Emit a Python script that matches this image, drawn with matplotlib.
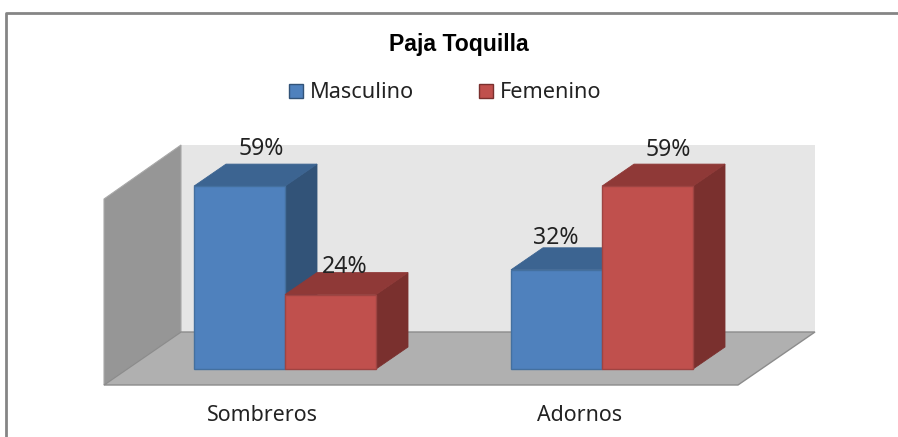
"""Paja Toquilla: fake 3D clustered column chart, Excel style."""

import matplotlib

matplotlib.use("Agg")
import matplotlib.pyplot as plt
from matplotlib.patches import Patch, Polygon
from matplotlib.transforms import Affine2D

categories = ["Sombreros", "Adornos"]
masculino = [59, 32]
femenino = [24, 59]
y_max = 60

W, H = 898, 437
BLUE = ("#4F81BD", "#3C6491", "#325378", "#44709F")  # front, top, side, edge
RED = ("#C0504D", "#8F3937", "#7A302E", "#9E4442")
TEXT = "#222222"

plt.rcParams["font.family"] = ["Noto Sans", "DejaVu Sans"]

fig = plt.figure(figsize=(W / 100, H / 100), dpi=100)

# background layer in pixel coordinates: frame and the box walls
bg = fig.add_axes([0, 0, 1, 1])
bg.set_xlim(0, W)
bg.set_ylim(H, 0)
bg.axis("off")
bg.plot([5.5, 5.5, W], [H, 13, 13], color="#858585", lw=2)
bg.add_patch(Polygon([(181, 145), (815, 145), (815, 332), (181, 332)], fc="#E6E6E6", ec="none"))
bg.add_patch(Polygon([(104, 199), (181, 145), (181, 332), (104, 385)], fc="#969696", ec="#A8A8A8", lw=0.8))
bg.add_patch(Polygon([(104, 385), (181, 332), (815, 332), (738, 385)], fc="#B0B0B0", ec="#8C8C8C", lw=1))

# chart layer: the front plane of the box, 104..738 px wide and 199..385 px down
ax = fig.add_axes([104 / W, 1 - 385 / H, 634 / W, 186 / H])
ax.patch.set_alpha(0)
ax.set_xlim(-0.5, 1.5)
ax.set_ylim(0, y_max)
for s in ax.spines.values():
    s.set_visible(False)
ax.set_yticks([])
ax.set_xticks(range(len(categories)))
ax.set_xticklabels(categories, fontsize=15.4, color=TEXT)
ax.tick_params(axis="x", length=0, pad=14.7)

width = 91 / 317
px_x = 634 / 2  # pixels per category
px_y = 186 / y_max  # pixels per percent
shift = Affine2D().translate(22.5, 16)  # bars stand partway into the box
tr = ax.transData + shift
dep_x, dep_y = 32 / px_x, 22 / px_y


def bar3d(x, v, colors):
    left, right = x - width / 2, x + width / 2
    top = [(left, v), (right, v), (right + dep_x, v + dep_y), (left + dep_x, v + dep_y)]
    side = [(right, 0), (right + dep_x, dep_y), (right + dep_x, v + dep_y), (right, v)]
    ax.add_patch(Polygon(side, fc=colors[2], ec=colors[2], lw=0.6, transform=tr, clip_on=False))
    ax.add_patch(Polygon(top, fc=colors[1], ec=colors[1], lw=0.6, transform=tr, clip_on=False))
    ax.bar(x, v, width, color=colors[0], edgecolor=colors[3], lw=1, transform=tr, clip_on=False)


# left column of each pair goes first so the right one covers its side face
for i in range(len(categories)):
    bar3d(i - width / 2, masculino[i], BLUE)
    bar3d(i + width / 2, femenino[i], RED)

# label offsets from the top centre of the front face
offsets = {(0, 0): (22, 37), (0, 1): (14, 28), (1, 0): (-1, 32), (1, 1): (21, 36)}
for i in range(len(categories)):
    for j, (vals, sign) in enumerate(((masculino, -1), (femenino, 1))):
        dx, dy = offsets[(i, j)]
        ax.annotate(f"{vals[i]}%", (i + sign * width / 2, vals[i]), xycoords=tr,
                    xytext=(dx * 0.72, dy * 0.72), textcoords="offset points",
                    ha="center", va="center", fontsize=16.6, color=TEXT, annotation_clip=False)

fig.text(459 / W, 1 - 45 / H, "Paja Toquilla", family="Liberation Sans", fontweight="bold",
         fontsize=16.6, color="black", ha="center", va="center")

handles = [Patch(fc=BLUE[0], ec=BLUE[2], lw=1), Patch(fc=RED[0], ec=RED[2], lw=1)]
fig.legend(handles, ["Masculino", "Femenino"], loc="center", bbox_to_anchor=(445.5 / W, 1 - 93 / H),
           ncol=2, frameon=False, fontsize=15.6, labelcolor=TEXT, handlelength=0.65, handleheight=0.65,
           handletextpad=0.32, columnspacing=3.0)

fig.savefig("out.png", dpi=100)
